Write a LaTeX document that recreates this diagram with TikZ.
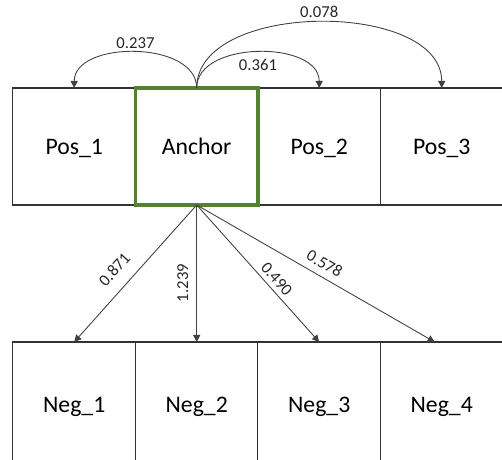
\documentclass[tikz,border=0pt]{standalone}
\usepackage{fontspec}
\setmainfont{Carlito}
\usetikzlibrary{arrows.meta}
\definecolor{anchorgreen}{RGB}{84,130,53}
\definecolor{linegray}{RGB}{64,64,64}
\begin{document}
\begin{tikzpicture}[x=0.02cm, y=0.02cm,
  box/.style={draw=black!80, line width=0.6pt, minimum width=2.45cm, minimum height=2.34cm,
    inner sep=0pt, outer sep=0pt, text height=8.7pt, text depth=0pt,
    font=\fontsize{13.5}{16}\selectfont},
  negbox/.style={box, minimum height=2.5cm},
  anchorbox/.style={box, draw=anchorgreen, line width=2pt},
  arr/.style={draw=linegray, line width=0.5pt, -{Triangle[length=4pt,width=4pt]}},
  val/.style={font=\fontsize{9.5}{11}\selectfont, inner sep=1pt, text=black!85}]
\useasboundingbox (0,0) rectangle (502,459);
\clip (0,0) rectangle (502,459);
%% Nodes
\node[box](pos1) at (74.2, 312.5) {Pos\_1};
\node[box](pos2) at (319.2, 312.5) {Pos\_2};
\node[box](pos3) at (441.7, 312.5) {Pos\_3};
\node[anchorbox](anc) at (196.7, 312.5) {Anchor};
\node[negbox](neg1) at (74.2, 54.5) {Neg\_1};
\node[negbox](neg2) at (196.7, 54.5) {Neg\_2};
\node[negbox](neg3) at (319.2, 54.5) {Neg\_3};
\node[negbox](neg4) at (441.7, 54.5) {Neg\_4};
%% Lines
\draw[arr] (anc.north) to[out=90, in=90] node[val, above=1pt] {0.237} (pos1.north);
\draw[arr] (anc.north) to[out=90, in=90] node[val, below=3pt] {0.361} (pos2.north);
\draw[arr] (anc.north) to[out=90, in=90, looseness=0.92] node[val, above=1pt] {0.078} (pos3.north);
\draw[arr] (anc.south) -- node[val, sloped, above=6pt, pos=0.56] {0.871} (neg1.north);
\draw[arr] (anc.south) -- node[val, rotate=90, anchor=south, inner sep=4.5pt, pos=0.57] {1.239} (neg2.north);
\draw[arr] (anc.south) -- node[val, sloped, above=1.5pt, pos=0.59] {0.490} (neg3.north);
\draw[arr] (anc.south) -- node[val, sloped, above=3pt, pos=0.51] {0.578} ([xshift=-4]neg4.north);
\end{tikzpicture}
\end{document}
